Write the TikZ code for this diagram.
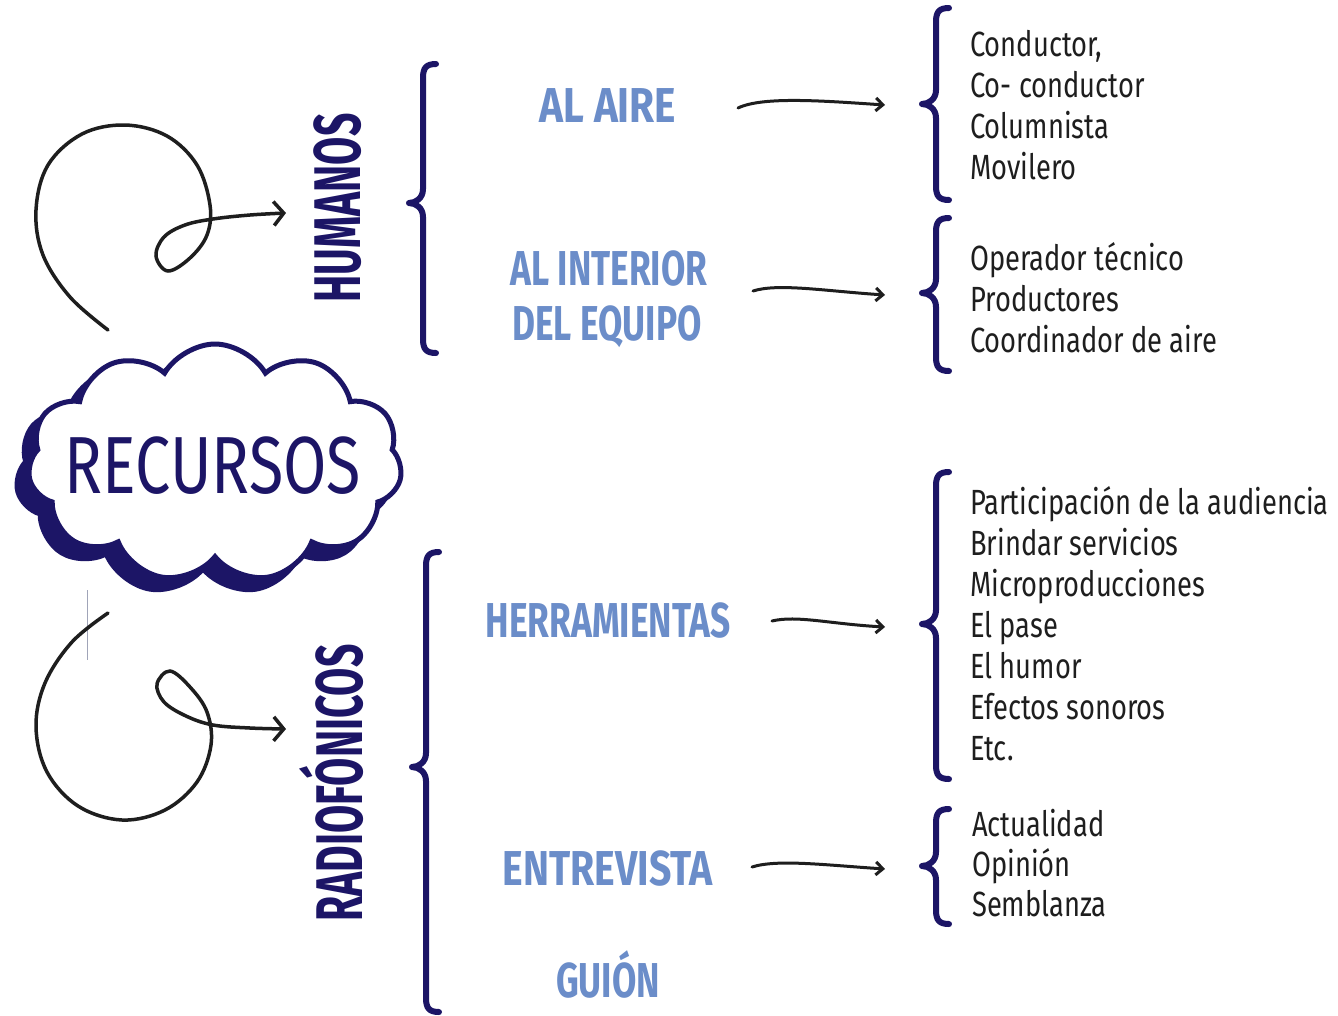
\documentclass[tikz,border=0pt]{standalone}
\usepackage{fontspec}
\usetikzlibrary{shapes.symbols,arrows.meta}
\newfontfamily\listfont[FakeStretch=0.78]{Fira Sans}
\newfontfamily\headfont[FakeStretch=0.72]{Fira Sans}
\newfontfamily\vertfont[FakeStretch=0.62]{Fira Sans}
\newfontfamily\cloudfont[FakeStretch=0.775]{Fira Sans}
\definecolor{navy}{HTML}{1C1566}
\definecolor{lblue}{HTML}{6B8DC9}
\definecolor{ink}{HTML}{1E1E1E}
\definecolor{thingray}{HTML}{A0A4B8}
\newcommand\mybrace[4]{%
 \draw[bracestyle] ({#1+13},#2) .. controls ({#1+3},#2) and (#1,{#2+4}) .. (#1,{#2+14})
   -- (#1,{#3-14}) .. controls (#1,{#3-5}) and ({#1-7},#3) .. ({#1-14},#3)
   .. controls ({#1-7},#3) and (#1,{#3+5}) .. (#1,{#3+14})
   -- (#1,{#4-14}) .. controls (#1,{#4-4}) and ({#1+3},#4) .. ({#1+13},#4);}
\begin{document}
\begin{tikzpicture}[x=1pt,y=-1pt,
 bracestyle/.style={draw=navy,line width=6pt,line cap=round,line join=round},
 cloudshape/.style={cloud,cloud puffs=11,cloud puff arc=120,minimum width=374pt,minimum height=238pt,draw=navy,line width=5pt,inner sep=0pt},
 head/.style={text=lblue,font=\headfont\bfseries\fontsize{49}{55}\selectfont,inner sep=0pt,anchor=base},
 vlabel/.style={text=navy,font=\vertfont\bfseries\fontsize{66}{70}\selectfont,inner sep=0pt,rotate=90,anchor=base},
 listtext/.style={text=ink,font=\listfont\fontsize{35}{41}\selectfont,align=left,inner sep=0pt,anchor=north west},
 conn/.style={draw=ink,line width=3pt,line cap=round,-{Straight Barb[length=7pt,width=13pt]}},
 spiral/.style={draw=ink,line width=3.5pt,line cap=round,-{Straight Barb[length=10pt,width=24pt]}}]
\useasboundingbox (0,0) rectangle (1338,1015);
\fill[white] (0,0) rectangle (1338,1015);

% cloud
\draw[thingray,line width=1pt] (87,590) -- (87,660);
\node[cloudshape,fill=navy] (cloudshadow) at (203,475) {};
\node[cloudshape,fill=white] (cloud) at (215,463) {};
\node[text=navy,font=\cloudfont\fontsize{81}{81}\selectfont,inner sep=0pt,anchor=base] (recursos) at (213,493) {RECURSOS};

% spirals
\draw[spiral] plot[smooth,tension=0.6] coordinates {(108,330) (70,297) (43,255) (36,210) (48,165) (82,134) (125,125) (167,136) (197,165) (210,205) (207,235) (190,258) (168,271) (156,256) (164,237) (185,225) (213,219) (250,215) (286,213)};
\draw[spiral] plot[smooth,tension=0.6] coordinates {(108,613) (72,642) (45,683) (36,727) (47,772) (78,806) (122,820) (165,810) (197,782) (211,745) (207,712) (190,687) (170,671) (157,684) (164,702) (186,716) (213,725) (250,728) (286,729)};

% vertical labels
\node[vlabel] (humanos) at (360,208) {HUMANOS};
\node[vlabel] (radio) at (362,783) {RADIOFÓNICOS};

% left braces
\mybrace{423}{64}{203}{353}
\mybrace{426}{552}{767}{1012}

% blue headings
\node[head] (alaire) at (608,122) {\scalebox{1.15}[1]{AL AIRE}};
\node[head] (interior) at (609,285) {AL INTERIOR};
\node[head] (equipo) at (607,340) {DEL EQUIPO};
\node[head] (herr) at (608,637) {HERRAMIENTAS};
\node[head] (entrev) at (608,885) {\scalebox{1.11}[1]{ENTREVISTA}};
\node[head] (guion) at (608,997) {GUIÓN};

% connectors
\coordinate (a1s) at (738,108); \coordinate (a1e) at (885,105);
\coordinate (a2s) at (753,291); \coordinate (a2e) at (885,295);
\coordinate (a3s) at (772,621); \coordinate (a3e) at (885,627);
\coordinate (a4s) at (752,867); \coordinate (a4e) at (885,869);
\draw[conn] (a1s) .. controls +(25,-12) and +(-60,-4) .. (a1e);
\draw[conn] (a2s) .. controls +(25,-8) and +(-60,-4) .. (a2e);
\draw[conn] (a3s) .. controls +(25,-6) and +(-55,-3) .. (a3e);
\draw[conn] (a4s) .. controls +(25,-8) and +(-60,-4) .. (a4e);

% right braces
\mybrace{936}{8}{104}{200}
\mybrace{936}{218}{293}{371}
\mybrace{936}{472}{624}{779}
\mybrace{936}{809}{866}{924}

% lists
\node[listtext] (lista) at (970,30) {Conductor,\\Co- conductor\\Columnista\\Movilero};
\node[listtext] (listb) at (970,242) {Operador técnico\\Productores\\Coordinador de aire};
\node[listtext] (listc) at (970,486) {Participación de la audiencia\\Brindar servicios\\Microproducciones\\El pase\\El humor\\Efectos sonoros\\Etc.};
\node[listtext,font=\listfont\fontsize{35}{40}\selectfont] (listd) at (972,809) {Actualidad\\Opinión\\Semblanza};
\end{tikzpicture}
\end{document}
